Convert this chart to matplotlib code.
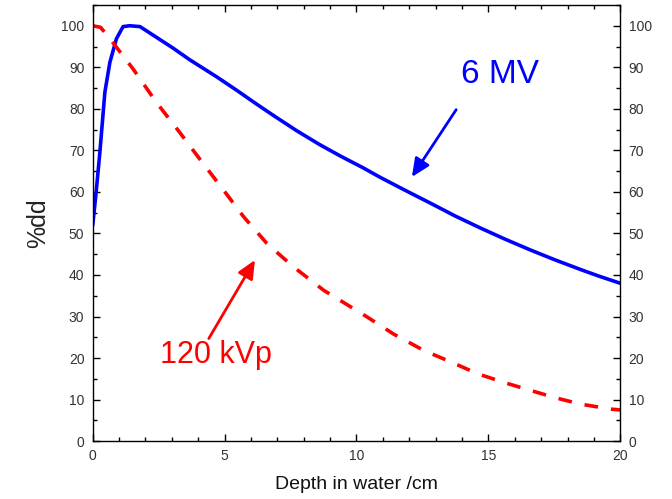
import matplotlib
matplotlib.use('Agg')
import matplotlib.pyplot as plt
from matplotlib.ticker import MultipleLocator

plt.rcParams['font.family'] = ['Liberation Sans', 'DejaVu Sans']

# 6 MV photon beam, percent depth dose
mv_depth = [0, 0.13, 0.27, 0.46, 0.65, 0.9, 1.15, 1.4, 1.79, 2.42, 3.05, 3.68,
            4.7, 5.45, 6.22, 6.97, 7.74, 8.6, 9.4, 10.25, 10.9, 11.84, 12.8,
            13.74, 14.7, 15.64, 16.6, 17.5, 18.5, 19.2, 20]
mv_dose = [52, 60, 69.5, 84, 91.2, 96.9, 99.8, 100, 99.8, 97.2, 94.6, 91.8,
           87.7, 84.5, 81.1, 77.9, 74.7, 71.4, 68.6, 65.8, 63.5, 60.4, 57.3,
           54.2, 51.3, 48.6, 46, 43.7, 41.3, 39.7, 38]

# 120 kVp x-ray beam
kv_depth = [0, 0.3, 0.65, 1.53, 2.42, 3.3, 4.07, 4.95, 5.71, 6.6, 7.6, 8.76,
            10.4, 11.4, 12.56, 13.6, 14.6, 15.6, 16.5, 17.5, 18.5, 19.66, 20]
kv_dose = [100, 99.6, 96.9, 89.6, 81.5, 74.3, 67.8, 60.5, 54.1, 47.6, 42, 36.3,
           29.9, 25.8, 21.8, 19, 16.2, 14.1, 12.4, 10.5, 8.9, 7.7, 7.5]

xticks = [0, 5, 10, 15, 20]
yticks = [0, 10, 20, 30, 40, 50, 60, 70, 80, 90, 100]

fig = plt.figure(figsize=(6.72, 4.99), dpi=100)
ax = fig.add_axes([0.138, 0.116, 0.785, 0.874])

ax.plot(mv_depth, mv_dose, color='#0000ff', lw=2.6, solid_capstyle='round',
        solid_joinstyle='round')
ax.plot(kv_depth, kv_dose, color='#ff0000', lw=2.6, linestyle=(0, (3.8, 3.6)),
        dash_capstyle='butt')

ax.set_xlim(0, 20)
ax.set_ylim(0, 105)
ax.set_xticks(xticks)
ax.set_yticks(yticks)
ax.xaxis.set_minor_locator(MultipleLocator(1))
ax.yaxis.set_minor_locator(MultipleLocator(5))
ax.tick_params(which='both', direction='in', top=True, right=True,
               labelright=True, colors='black', labelcolor='#333333',
               labelsize=10)
ax.tick_params(which='major', length=5, width=1, pad=6)
ax.tick_params(which='minor', length=3, width=1)
for s in ax.spines.values():
    s.set_linewidth(1)

ax.set_xlabel('Depth in water /cm', fontsize=14, labelpad=9, color='#111111')
ax.set_ylabel('%dd', fontsize=18, labelpad=8, color='#222222')

ax.text(15.45, 88.2, '6 MV', color='#0000ff', fontsize=24, ha='center', va='center')
ax.text(4.67, 20.7, '120 kVp', color='#ff0000', fontsize=22, ha='center', va='center')

arrow = '-|>,head_length=0.55,head_width=0.25'
ax.annotate('', xy=(12.1, 63.6), xytext=(13.78, 79.8),
            arrowprops=dict(arrowstyle=arrow, color='#0000ff', lw=2,
                            mutation_scale=20, shrinkA=0, shrinkB=0))
ax.annotate('', xy=(6.15, 43.6), xytext=(4.4, 24.7),
            arrowprops=dict(arrowstyle=arrow, color='#ff0000', lw=2,
                            mutation_scale=20, shrinkA=0, shrinkB=0))

fig.savefig('out.png', dpi=100)
